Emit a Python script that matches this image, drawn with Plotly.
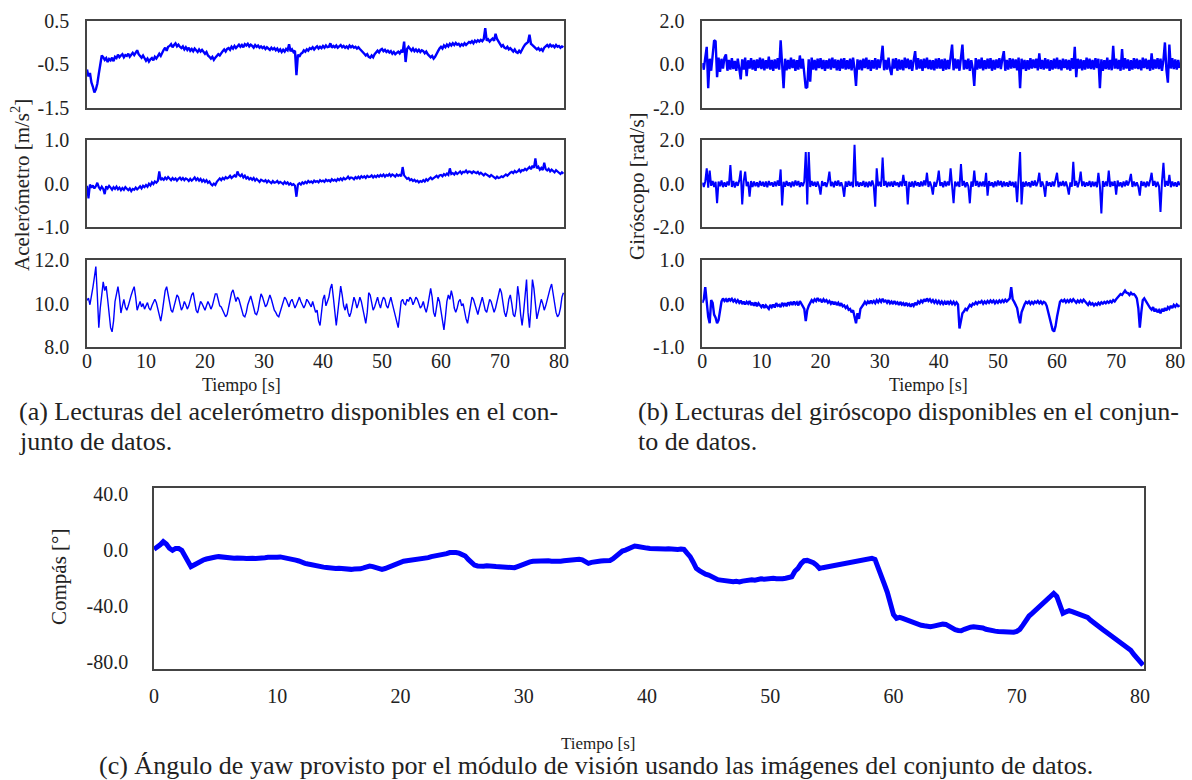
import plotly.graph_objects as go

# ---------------- sensor readings, sampled every 0.25 s ----------------
accel_x = [
    -0.62, -0.78, -0.70, -0.92, -1.02, -1.15, -1.08, -0.95,
    -0.72, -0.55, -0.30, -0.34, -0.40, -0.36, -0.45, -0.38,
    -0.41, -0.35, -0.43, -0.33, -0.36, -0.28, -0.34, -0.30,
    -0.27, -0.34, -0.29, -0.31, -0.26, -0.33, -0.28, -0.24,
    -0.29, -0.22, -0.18, -0.27, -0.31, -0.35, -0.30, -0.38,
    -0.42, -0.37, -0.44, -0.39, -0.36, -0.41, -0.33, -0.37,
    -0.30, -0.26, -0.31, -0.22, -0.17, -0.12, -0.19, -0.10,
    -0.08, -0.04, -0.11, -0.06, -0.02, -0.09, -0.05, -0.10,
    -0.13, -0.09, -0.16, -0.11, -0.17, -0.12, -0.19, -0.15,
    -0.20, -0.14, -0.18, -0.22, -0.16, -0.21, -0.17, -0.23,
    -0.26, -0.22, -0.30, -0.33, -0.37, -0.33, -0.40, -0.35,
    -0.31, -0.27, -0.30, -0.24, -0.20, -0.16, -0.21, -0.15,
    -0.13, -0.17, -0.10, -0.14, -0.08, -0.13, -0.09, -0.05,
    -0.10, -0.06, -0.11, -0.04, -0.07, -0.03, -0.09, -0.05,
    -0.08, -0.12, -0.06, -0.10, -0.07, -0.12, -0.09, -0.13,
    -0.10, -0.15, -0.11, -0.14, -0.17, -0.12, -0.16, -0.13,
    -0.18, -0.14, -0.20, -0.16, -0.22, -0.17, -0.21, -0.15,
    -0.18, -0.04, -0.20, -0.16, -0.22, -0.19, -0.75, -0.28,
    -0.33, -0.26, -0.24, -0.18, -0.21, -0.16, -0.19, -0.13,
    -0.15, -0.11, -0.16, -0.12, -0.09, -0.14, -0.10, -0.13,
    -0.08, -0.12, -0.07, -0.11, -0.10, -0.02, -0.12, -0.08,
    -0.11, -0.07, -0.12, -0.09, -0.06, -0.11, -0.08, -0.12,
    -0.09, -0.13, -0.07, -0.11, -0.08, -0.12, -0.10, -0.14,
    -0.11, -0.15, -0.18, -0.22, -0.26, -0.30, -0.27, -0.33,
    -0.35, -0.30, -0.34, -0.27, -0.24, -0.19, -0.23, -0.17,
    -0.15, -0.20, -0.17, -0.22, -0.19, -0.23, -0.20, -0.26,
    -0.22, -0.27, -0.24, -0.21, -0.25, -0.19, -0.23, 0.02,
    -0.45, -0.15, -0.10, -0.16, -0.19, -0.14, -0.20, -0.16,
    -0.21, -0.17, -0.22, -0.18, -0.20, -0.25, -0.21, -0.27,
    -0.30, -0.34, -0.31, -0.37, -0.33, -0.28, -0.20, -0.14,
    -0.10, -0.14, -0.07, -0.11, -0.05, -0.09, -0.03, -0.07,
    -0.02, -0.06, -0.01, -0.05, -0.03, -0.08, -0.04, -0.07,
    -0.02, -0.06, -0.03, 0.01, -0.01, 0.03, -0.02, 0.04,
    0.01, 0.05, 0.02, 0.06, 0.03, 0.08, 0.33, 0.04,
    0.07, 0.02, 0.06, 0.09, 0.04, 0.20, 0.08, 0.03,
    -0.04, -0.09, -0.06, -0.12, -0.14, -0.10, -0.16, -0.13,
    -0.17, -0.21, -0.16, -0.22, -0.24, -0.19, -0.23, -0.15,
    -0.10, -0.05, -0.02, 0.01, 0.18, -0.03, -0.06, -0.10,
    -0.12, -0.16, -0.13, -0.18, -0.15, -0.19, -0.12, -0.09,
    -0.06, -0.10, -0.05, -0.09, -0.07, -0.11, -0.06, -0.10,
    -0.08, -0.12, -0.09, -0.11,
]

accel_y = [
    -0.05, -0.34, -0.02, -0.09, -0.04, -0.11, -0.06, 0.02,
    -0.08, -0.13, -0.07, -0.12, -0.24, -0.06, -0.11, -0.05,
    -0.09, -0.14, -0.08, -0.12, -0.07, -0.13, -0.09, -0.15,
    -0.10, -0.14, -0.08, -0.12, -0.15, -0.11, -0.17, -0.12,
    -0.14, -0.09, -0.13, -0.10, -0.06, -0.11, -0.05, -0.08,
    -0.03, -0.07, 0.00, -0.04, 0.03, -0.01, 0.05, 0.02,
    0.06, 0.28, 0.08, 0.12, 0.09, 0.14, 0.10, 0.15,
    0.11, 0.08, 0.13, 0.09, 0.12, 0.07, 0.11, 0.14,
    0.09, 0.13, 0.08, 0.12, 0.10, 0.06, 0.11, 0.07,
    0.10, 0.14, 0.08, 0.12, 0.07, 0.11, 0.05, 0.09,
    0.04, 0.08, 0.02, 0.05, -0.01, -0.04, 0.00, -0.03,
    0.04, 0.09, 0.12, 0.08, 0.13, 0.10, 0.15, 0.12,
    0.14, 0.18, 0.13, 0.16, 0.19, 0.15, 0.28, 0.20,
    0.17, 0.21, 0.14, 0.18, 0.12, 0.15, 0.10, 0.13,
    0.09, 0.13, 0.07, 0.11, 0.08, 0.04, 0.09, 0.06,
    0.05, 0.08, 0.03, 0.07, 0.04, 0.01, 0.06, 0.02,
    0.03, 0.06, 0.01, 0.04, 0.02, -0.01, 0.04, 0.00,
    0.03, -0.02, 0.01, -0.03, -0.01, -0.05, -0.30, -0.02,
    0.01, -0.02, 0.03, 0.00, 0.04, 0.01, 0.06, 0.03,
    0.05, 0.02, 0.07, 0.04, 0.06, 0.03, 0.08, 0.05,
    0.07, 0.04, 0.09, 0.06, 0.08, 0.05, 0.10, 0.07,
    0.09, 0.06, 0.11, 0.08, 0.12, 0.08, 0.13, 0.10,
    0.12, 0.16, 0.11, 0.14, 0.13, 0.10, 0.15, 0.12,
    0.16, 0.12, 0.17, 0.14, 0.17, 0.13, 0.18, 0.15,
    0.16, 0.19, 0.14, 0.18, 0.15, 0.19, 0.16, 0.20,
    0.17, 0.21, 0.16, 0.20, 0.18, 0.22, 0.17, 0.21,
    0.19, 0.16, 0.21, 0.18, 0.20, 0.17, 0.38, 0.19,
    0.15, 0.11, 0.13, 0.08, 0.10, 0.06, 0.09, 0.05,
    0.07, 0.03, 0.06, 0.04, 0.08, 0.05, 0.10, 0.07,
    0.11, 0.14, 0.10, 0.13, 0.15, 0.18, 0.14, 0.19,
    0.20, 0.17, 0.22, 0.19, 0.23, 0.20, 0.35, 0.22,
    0.24, 0.21, 0.26, 0.22, 0.25, 0.28, 0.23, 0.27,
    0.26, 0.30, 0.25, 0.28, 0.27, 0.24, 0.28, 0.25,
    0.24, 0.27, 0.22, 0.25, 0.22, 0.19, 0.23, 0.20,
    0.19, 0.16, 0.20, 0.17, 0.15, 0.12, 0.16, 0.13,
    0.14, 0.17, 0.15, 0.19, 0.21, 0.18, 0.23, 0.25,
    0.27, 0.24, 0.29, 0.26, 0.28, 0.32, 0.27, 0.31,
    0.30, 0.34, 0.31, 0.36, 0.38, 0.33, 0.41, 0.36,
    0.58, 0.35, 0.39, 0.32, 0.36, 0.31, 0.48, 0.33,
    0.30, 0.34, 0.28, 0.32, 0.29, 0.26, 0.31, 0.27,
    0.25, 0.22, 0.26, 0.23,
]

accel_z = [
    10.15, 10.25, 9.95, 10.30, 10.75, 11.20, 11.70, 10.40,
    8.90, 9.80, 10.60, 11.00, 10.60, 10.80, 10.20, 9.50,
    8.90, 8.71, 9.20, 10.10, 10.50, 10.78, 10.30, 9.57,
    9.90, 10.20, 9.85, 9.70, 9.90, 10.20, 10.40, 10.60,
    10.78, 10.30, 9.70, 9.90, 10.10, 9.85, 10.00, 9.75,
    9.95, 10.05, 9.80, 9.70, 9.90, 10.10, 10.20, 10.05,
    9.80, 9.50, 9.20, 9.60, 10.10, 10.60, 10.78, 10.40,
    9.90, 9.70, 9.60, 9.90, 10.20, 10.40, 10.30, 9.90,
    9.70, 9.85, 10.10, 9.95, 9.75, 9.90, 10.20, 10.40,
    10.50, 10.10, 9.70, 9.57, 9.80, 10.10, 10.00, 9.85,
    9.70, 9.90, 10.10, 9.95, 9.75, 9.90, 10.20, 10.45,
    10.45, 10.10, 9.90, 9.85, 9.70, 9.55, 9.40, 9.50,
    9.80, 10.20, 10.50, 10.63, 10.40, 10.10, 10.30, 10.20,
    9.95, 9.70, 9.45, 9.40, 9.60, 9.95, 10.20, 10.35,
    10.10, 9.80, 9.55, 9.50, 9.70, 10.10, 10.45, 10.30,
    10.00, 9.85, 9.95, 10.20, 10.40, 10.20, 9.90, 9.70,
    9.60, 9.45, 9.40, 9.60, 9.85, 10.10, 10.30, 10.20,
    10.00, 9.85, 10.10, 10.20, 10.00, 9.80, 9.95, 10.15,
    10.30, 10.10, 9.90, 9.80, 9.95, 10.20, 10.10, 9.95,
    9.85, 10.10, 9.90, 9.60, 9.70, 9.20, 9.00, 9.60,
    10.20, 10.40, 9.90, 10.10, 10.30, 10.70, 10.90, 10.30,
    9.50, 9.00, 9.60, 10.30, 10.80, 10.40, 9.90, 9.70,
    10.00, 9.60, 9.40, 9.60, 9.90, 10.30, 10.10, 9.80,
    10.00, 10.30, 10.10, 9.70, 9.40, 9.10, 9.60, 10.50,
    10.40, 10.00, 9.70, 9.85, 10.10, 10.30, 10.00, 9.80,
    10.10, 10.30, 10.20, 9.90, 9.80, 10.10, 10.30, 10.00,
    9.70, 9.50, 9.10, 8.90, 9.50, 10.10, 10.20, 10.00,
    9.95, 10.20, 10.10, 10.30, 10.20, 9.95, 10.10, 10.30,
    10.20, 10.00, 9.80, 9.90, 10.10, 9.80, 9.60, 9.90,
    10.30, 10.70, 10.30, 9.60, 9.40, 9.80, 10.30, 10.10,
    9.60, 9.20, 8.80, 9.40, 10.10, 10.40, 10.20, 10.60,
    10.30, 9.80, 9.60, 9.80, 10.10, 10.20, 9.90, 10.00,
    9.60, 9.30, 9.10, 9.50, 10.00, 10.30, 10.20, 10.00,
    9.70, 9.50, 9.80, 10.10, 10.30, 10.00, 9.70, 9.60,
    9.90, 10.20, 10.10, 9.80, 9.60, 9.80, 10.10, 10.40,
    10.70, 10.50, 10.00, 9.60, 9.40, 9.70, 10.20, 10.40,
    10.00, 9.50, 9.40, 9.80, 10.80, 10.30, 9.50, 9.00,
    9.60, 10.60, 11.10, 9.60, 8.90, 9.80, 11.10, 10.70,
    9.80, 9.30, 9.60, 10.00, 10.20, 10.00, 9.70, 9.90,
    10.20, 10.50, 10.70, 10.90, 10.40, 9.90, 9.60, 9.40,
    9.50, 9.80, 10.30, 10.50,
]

gyro_x = [
    0.05, -0.25, 0.30, 0.80, -1.10, 0.25, -0.30, 0.35,
    1.10, 1.05, -0.60, 0.30, -0.35, 0.25, -0.20, 0.30,
    0.45, -0.30, 0.20, -0.25, 0.28, -0.22, 0.15, -0.30,
    0.25, -0.20, -0.70, 0.22, -0.25, 0.30, -0.55, 0.18,
    -0.20, 0.28, -0.25, 0.20, -0.30, 0.22, -0.18, 0.30,
    -0.22, 0.25, -0.28, 0.18, -0.20, 0.35, -0.25, 0.20,
    -0.30, 0.22, -0.20, 0.28, -0.25, 1.10, -0.20, -1.10,
    0.25, -0.28, 0.20, -0.22, 0.30, -0.18, 0.22, -0.30,
    0.18, -0.25, 0.40, -0.20, 0.25, -0.30, -1.10, -1.05,
    0.22, -0.80, 0.30, -0.25, 0.20, -0.28, 0.25, -0.18,
    0.28, -0.22, 0.20, -0.30, 0.18, -0.20, 0.25, -0.25,
    0.30, -0.18, 0.22, -0.28, 0.20, -0.30, 0.25, -0.20,
    0.28, -0.25, 0.18, -0.22, 0.25, -0.28, 0.30, -0.20,
    -1.00, 0.22, -0.25, 0.20, -0.28, 0.25, -0.18, 0.30,
    -0.22, 0.20, -0.30, 0.18, -0.20, 0.28, -0.25, 0.22,
    -0.18, 0.25, 0.85, -0.28, 0.20, -0.25, 0.30, -0.22,
    -0.50, 0.25, -0.20, 0.28, -0.30, 0.22, -0.25, 0.20,
    -0.28, 0.30, -0.18, 0.25, -0.22, 0.20, -0.30, 0.18,
    0.60, -0.25, 0.28, -0.20, 0.22, -0.30, 0.25, -0.18,
    0.30, -0.22, 0.20, -0.25, 0.18, -0.28, 0.25, -0.20,
    0.28, -0.20, 0.22, -0.30, 0.25, -0.25, 0.20, -0.22,
    0.30, 0.90, -0.28, 0.25, -0.20, 0.22, -0.30, 0.28,
    0.90, -0.25, 0.20, -0.22, 0.25, -0.30, 0.18, -0.20,
    -1.00, 0.28, -0.25, 0.22, -0.20, 0.30, -0.28, 0.18,
    -0.22, 0.25, -0.20, 0.28, -0.30, 0.20, -0.25, 0.22,
    -0.18, 0.28, -0.22, 0.25, 0.60, -0.30, 0.20, -0.25,
    0.28, -0.20, 0.25, -0.18, 0.22, -0.28, 0.30, -1.10,
    0.25, -0.22, 0.20, -0.30, 0.18, -0.25, 0.28, -0.20,
    0.22, -0.18, 0.25, -0.28, 0.50, -0.22, 0.20, -0.25,
    0.28, -0.20, 0.22, -0.30, 0.18, -0.25, 0.25, -0.20,
    0.30, -0.22, 0.20, -0.28, 0.25, -0.18, 0.22, -0.25,
    0.20, -0.30, 0.28, -0.22, 0.80, -0.60, 0.25, -0.20,
    0.22, -0.28, 0.18, -0.25, 0.30, -0.20, 0.25, -0.22,
    0.20, -0.25, 0.28, -0.18, 0.25, -1.10, 0.22, -0.30,
    0.18, -0.22, 0.30, -0.25, 0.20, -0.28, 0.85, -0.20,
    0.25, -0.22, 0.20, -0.30, 0.70, -0.25, 0.28, -0.20,
    0.22, -0.30, 0.18, -0.25, 0.28, -0.20, 0.25, -0.22,
    0.20, -0.28, 0.30, -0.18, 0.25, -0.22, 0.20, -0.30,
    0.50, -0.25, 0.22, -0.20, 0.28, -0.22, 0.25, -0.30,
    0.20, 1.00, -0.25, -0.85, 0.90, -0.20, 0.28, -0.22,
    0.22, -0.25, 0.20, -0.18,
]

gyro_y = [
    0.05, -0.15, 0.10, 0.70, -0.18, 0.60, -0.10, 0.12,
    -0.15, 0.08, -0.90, 0.10, -0.12, 0.14, -0.16, 0.06,
    -0.14, 0.10, -0.08, 0.85, -0.15, 0.12, -0.18, 0.08,
    -0.10, 0.14, 0.60, -0.95, 0.10, 0.55, -0.12, 0.08,
    -0.60, 0.12, -0.15, 0.10, -0.12, 0.06, -0.16, 0.12,
    -0.10, 0.08, -0.14, 0.10, -0.16, 0.12, -0.08, 0.06,
    -0.14, 0.10, -0.12, 0.14, -0.10, 0.65, -1.00, 0.08,
    -0.14, 0.12, -0.10, 0.06, -0.16, 0.10, -0.12, 0.14,
    -0.08, 0.12, -0.15, 0.06, -0.12, 0.10, 1.45, -0.95,
    1.45, -0.15, 0.12, -0.10, 0.08, -0.14, 0.10, -0.12,
    -0.50, 0.12, -0.10, 0.06, -0.15, 0.10, 0.55, -0.12,
    0.08, -0.16, 0.12, -0.10, 0.14, -0.12, 0.06, -0.15,
    -0.60, 0.10, -0.14, 0.12, -0.10, 0.08, -0.16, 1.78,
    -0.12, 0.10, -0.14, 0.06, -0.10, 0.12, -0.15, 0.08,
    -0.16, 0.10, -0.12, 0.14, -0.10, -1.06, 0.70, -0.12,
    0.08, -0.14, 1.20, -0.10, 0.12, -0.16, 0.08, -0.12,
    0.10, -0.14, 0.12, -0.08, 0.06, -0.15, 0.10, -0.12,
    0.40, -0.10, 0.12, -0.95, 0.08, -0.14, 0.10, -0.16,
    0.12, -0.10, 0.06, -0.14, 0.10, -0.12, 0.14, -0.08,
    0.50, -0.15, 0.10, -0.12, -0.50, 0.08, -0.14, 0.12,
    0.60, -0.10, 0.06, -0.16, 0.12, -0.12, 0.10, -0.08,
    0.70, -0.14, -0.90, 0.10, -0.12, 0.08, -0.15, 0.90,
    -0.10, 0.12, -0.16, 0.06, -0.12, -0.90, 0.10, -0.14,
    0.60, -0.10, 0.12, -0.15, 0.08, -0.12, 0.10, -0.14,
    0.50, -0.55, 0.12, -0.10, 0.06, -0.16, 0.10, -0.12,
    0.14, -0.08, 0.12, -0.15, 0.10, -0.12, 0.06, -0.14,
    0.12, -0.10, 0.08, -0.16, 0.10, -0.85, 0.12, 1.45,
    -0.95, 0.08, -0.14, 0.10, -0.12, 0.06, -0.16, 0.12,
    -0.10, 0.14, -0.12, 0.08, 0.50, -0.15, 0.10, -0.12,
    -0.60, 0.12, -0.10, 0.06, -0.14, 0.10, -0.12, 0.14,
    0.50, -0.16, 0.08, -0.10, 0.12, -0.12, 0.10, -0.15,
    -0.50, 0.06, -0.14, 1.00, -0.10, 0.12, -0.16, 0.08,
    0.55, -0.12, 0.10, -0.14, 0.06, -0.10, 0.12, -0.15,
    0.10, -0.12, 0.08, -0.16, 0.50, -0.10, -1.37, 0.12,
    -0.14, 0.10, -0.12, 0.60, -0.15, 0.08, -0.10, 0.12,
    -0.50, 0.14, -0.12, 0.06, -0.16, 0.10, -0.12, 0.14,
    -0.08, 0.12, 0.45, -0.15, 0.10, -0.12, 0.06, -0.14,
    -0.55, 0.12, -0.10, 0.08, -0.16, 0.10, -0.12, 0.14,
    0.50, -0.10, 0.12, -0.15, 0.08, -0.12, -1.30, 0.10,
    0.95, -0.14, 0.12, -0.10, 0.40, -0.16, 0.10, -0.12,
    0.06, -0.14, 0.10, -0.08,
]

gyro_z = [
    0.02, 0.10, 0.38, -0.05, -0.30, -0.45, 0.08, 0.02,
    -0.25, -0.32, -0.45, -0.38, -0.10, 0.05, 0.12, 0.06,
    0.10, 0.04, 0.12, 0.07, 0.11, 0.05, 0.09, 0.03,
    0.08, 0.02, 0.07, -0.01, 0.05, -0.02, 0.04, 0.00,
    0.06, -0.03, 0.02, -0.05, 0.03, -0.06, 0.01, -0.04,
    -0.08, -0.02, -0.10, -0.04, -0.07, -0.12, -0.03, -0.08,
    -0.02, -0.09, 0.01, -0.05, -0.03, -0.08, 0.02, -0.04,
    0.01, -0.06, 0.03, -0.02, 0.04, -0.03, 0.05, -0.01,
    0.03, -0.04, 0.06, 0.00, -0.04, -0.12, -0.40, -0.15,
    -0.05, 0.02, 0.08, 0.04, 0.10, 0.06, 0.13, 0.07,
    0.09, 0.03, 0.10, 0.05, 0.08, 0.02, 0.06, 0.00,
    0.05, -0.02, 0.04, -0.03, 0.02, -0.05, 0.01, -0.06,
    -0.04, -0.10, -0.06, -0.14, -0.12, -0.20, -0.15, -0.30,
    -0.45, -0.22, -0.35, -0.12, -0.08, -0.02, 0.04, -0.01,
    0.05, 0.00, 0.07, 0.02, 0.06, 0.01, 0.08, 0.03,
    0.09, 0.04, 0.11, 0.05, 0.07, 0.02, 0.08, 0.01,
    0.05, -0.01, 0.06, 0.00, 0.03, -0.03, 0.04, -0.02,
    0.01, -0.05, 0.02, -0.04, -0.01, -0.07, 0.00, -0.05,
    0.02, -0.03, 0.05, 0.01, 0.07, 0.03, 0.10, 0.05,
    0.12, 0.06, 0.10, 0.04, 0.08, 0.02, 0.07, 0.01,
    0.06, 0.00, 0.05, -0.01, 0.04, -0.02, 0.06, 0.00,
    0.05, -0.01, 0.04, -0.02, 0.03, -0.02, -0.57, -0.35,
    -0.22, -0.18, -0.12, -0.15, -0.08, -0.03, -0.06, 0.00,
    -0.02, 0.03, -0.01, 0.04, 0.02, 0.06, 0.00, 0.05,
    0.01, 0.06, 0.02, 0.07, 0.03, 0.07, 0.01, 0.06,
    0.02, 0.07, 0.03, 0.08, 0.04, 0.09, 0.05, 0.10,
    0.12, 0.38, 0.10, 0.04, -0.02, -0.10, -0.30, -0.45,
    -0.20, -0.08, -0.02, 0.04, 0.01, 0.05, -0.01, 0.04,
    0.00, 0.05, 0.02, 0.06, 0.01, 0.05, 0.00, 0.04,
    0.02, -0.05, -0.20, -0.32, -0.45, -0.60, -0.64, -0.52,
    -0.30, -0.12, 0.04, 0.08, 0.05, 0.09, 0.03, 0.08,
    0.04, 0.09, 0.05, 0.10, 0.06, 0.02, 0.07, 0.03,
    0.08, 0.04, 0.09, 0.05, 0.02, -0.03, 0.03, -0.02,
    0.01, -0.04, 0.00, -0.03, 0.02, -0.02, 0.03, 0.00,
    0.04, 0.01, 0.05, 0.02, 0.06, 0.03, 0.08, 0.05,
    0.10, 0.14, 0.18, 0.22, 0.20, 0.26, 0.30, 0.25,
    0.24, 0.20, 0.25, 0.21, 0.22, 0.18, 0.12, -0.10,
    -0.55, -0.20, 0.08, 0.12, 0.06, 0.00, -0.05, -0.10,
    -0.14, -0.08, -0.18, -0.12, -0.20, -0.15, -0.22, -0.12,
    -0.18, -0.10, -0.16, -0.08, -0.12, -0.05, -0.10, -0.03,
    -0.07, -0.02, -0.06, -0.04,
]

# yaw angle from the vision module, degrees, sampled every 0.25 s
compass_yaw = [
    0.7, 2.0, 4.0, 6.2, 4.5, 1.5, 0.0, 1.4,
    1.4, 0.0, -4.0, -8.0, -11.7, -10.5, -9.0, -7.5,
    -6.9, -6.2, -5.5, -5.0, -4.8, -4.5, -4.8, -5.2,
    -5.0, -5.5, -5.7, -5.4, -5.2, -5.6, -5.8, -5.5,
    -5.7, -5.9, -5.4, -5.6, -5.3, -5.0, -5.2, -4.8,
    -5.0, -4.7, -5.1, -5.0, -5.6, -6.2, -7.0, -7.6,
    -8.8, -9.3, -9.8, -10.4, -11.0, -11.4, -11.7, -12.0,
    -12.2, -12.6, -12.5, -12.9, -12.8, -13.2, -13.0, -13.4,
    -13.6, -13.3, -13.7, -13.2, -12.6, -11.8, -11.2, -11.6,
    -12.4, -13.2, -13.6, -13.0, -12.0, -11.0, -10.0, -9.0,
    -8.1, -7.8, -7.4, -7.2, -7.0, -6.9, -6.5, -6.0,
    -5.6, -5.2, -4.5, -4.2, -3.8, -3.2, -2.8, -2.4,
    -1.6, -1.2, -1.5, -2.0, -2.6, -4.0, -6.5, -9.0,
    -10.5, -11.2, -11.6, -11.4, -11.0, -11.5, -11.8, -11.6,
    -11.7, -12.0, -12.4, -12.6, -12.9, -12.4, -11.6, -10.6,
    -9.3, -8.8, -8.2, -7.8, -7.6, -7.4, -7.6, -7.8,
    -7.5, -7.8, -8.1, -8.0, -7.8, -7.5, -7.2, -7.0,
    -6.8, -6.6, -6.4, -6.8, -8.0, -9.3, -8.6, -8.0,
    -7.8, -7.6, -7.4, -7.6, -7.2, -6.0, -4.0, -2.0,
    -0.5, 0.2, 1.2, 2.2, 3.1, 2.8, 2.2, 1.8,
    1.6, 1.4, 1.2, 1.5, 1.0, 1.3, 0.9, 1.2,
    0.8, 1.1, 0.7, 0.9, 0.7, -2.0, -4.5, -8.5,
    -12.9, -14.5, -16.0, -17.0, -17.7, -19.0, -20.2, -21.0,
    -21.3, -21.8, -22.2, -22.4, -22.5, -22.2, -22.6, -22.0,
    -21.6, -21.3, -21.0, -21.4, -20.8, -20.4, -20.6, -20.1,
    -20.4, -20.0, -20.3, -20.6, -20.3, -20.0, -19.5, -18.9,
    -15.0, -12.9, -9.5, -7.4, -7.2, -7.6, -8.8, -10.5,
    -12.9, -12.4, -12.0, -11.7, -11.4, -10.8, -10.5, -10.2,
    -9.8, -9.3, -9.0, -8.6, -8.2, -7.9, -7.4, -7.0,
    -6.5, -5.7, -6.5, -11.7, -18.0, -24.0, -30.0, -38.0,
    -46.0, -48.7, -48.0, -48.7, -49.5, -50.5, -51.8, -52.5,
    -53.0, -53.6, -54.0, -54.4, -54.7, -54.2, -53.5, -53.0,
    -52.8, -53.0, -54.5, -56.0, -56.8, -57.3, -57.5, -56.5,
    -55.5, -55.0, -54.7, -54.7, -54.7, -55.5, -56.5, -57.2,
    -57.5, -57.8, -58.0, -58.3, -58.6, -58.8, -59.0, -58.6,
    -58.0, -56.5, -53.5, -50.0, -47.0, -45.1, -43.0, -40.5,
    -38.5, -36.7, -34.5, -32.5, -30.8, -33.0, -40.0, -45.1,
    -44.0, -43.2, -43.8, -44.6, -45.1, -45.6, -46.3, -48.0,
    -50.0, -52.0, -53.5, -55.0, -56.8, -58.4, -60.0, -61.8,
    -63.2, -64.8, -66.4, -68.0, -69.0, -71.5, -74.5, -77.0,
    -79.5, -82.1,
]

SAMPLE_STEP = 0.25

# tick labels
x_ticks = [0, 10, 20, 30, 40, 50, 60, 70, 80]
acc_x_ticks = [-1.5, -0.5, 0.5]
acc_y_ticks = [-1.0, 0.0, 1.0]
acc_z_ticks = [8.0, 10.0, 12.0]
gyr_xy_ticks = [-2.0, 0.0, 2.0]
gyr_z_ticks = [-1.0, 0.0, 1.0]
yaw_ticks = [-80.0, -40.0, 0.0, 40.0]

W, H = 1192, 780
SERIF = "Liberation Serif, Times New Roman, serif"
TEXT = "#222222"
BLUE = "#0000ff"


def px_x(a, b):
    return [a / W, b / W]


def px_y(top, bottom):
    return [1 - bottom / H, 1 - top / H]


def times_for(values):
    return [i * SAMPLE_STEP for i in range(len(values))]


panels = [
    # (values, x-domain px, y-domain px, y-range, y-ticks, x-range, show x labels, line width)
    (accel_x, (87, 564), (20.7, 107.7), (-1.5, 0.5), acc_x_ticks, (0, 80.85), False, 2.4),
    (accel_y, (87, 564), (140, 227.3), (-1.0, 1.0), acc_y_ticks, (0, 80.85), False, 2.2),
    (accel_z, (87, 564), (260, 347.3), (8.0, 12.0), acc_z_ticks, (0, 80.85), True, 1.4),
    (gyro_x, (702.3, 1180), (20.7, 107.7), (-2.0, 2.0), gyr_xy_ticks, (0, 80.8), False, 2.4),
    (gyro_y, (702.3, 1180), (140, 227.3), (-2.0, 2.0), gyr_xy_ticks, (0, 80.8), False, 2.0),
    (gyro_z, (702.3, 1180), (260, 347.3), (-1.0, 1.0), gyr_z_ticks, (0, 80.8), True, 2.4),
]

fig = go.Figure()
layout = dict(
    width=W, height=H,
    margin=dict(l=0, r=0, t=0, b=0),
    paper_bgcolor="white", plot_bgcolor="white",
    showlegend=False,
    font=dict(family=SERIF, color=TEXT, size=20),
)

axis_line = dict(showline=True, linecolor="#444444", linewidth=1.5, mirror=True,
                 showgrid=False, zeroline=False, automargin=False,
                 tickcolor="rgba(0,0,0,0)")

for i, (vals, xd, yd, yr, yt, xr, show_x, lw) in enumerate(panels, start=1):
    xa = "x" if i == 1 else f"x{i}"
    ya = "y" if i == 1 else f"y{i}"
    fig.add_trace(go.Scatter(x=times_for(vals), y=vals, mode="lines",
                             line=dict(color=BLUE, width=lw),
                             xaxis=xa, yaxis=ya, hoverinfo="skip"))
    layout["xaxis" if i == 1 else f"xaxis{i}"] = dict(
        axis_line, domain=px_x(*xd), range=list(xr), anchor=ya, ticks="",
        ticklabelstandoff=-5,
        tickvals=x_ticks, ticktext=[str(v) for v in x_ticks],
        showticklabels=show_x, tickfont=dict(size=20, family=SERIF, color=TEXT))
    layout["yaxis" if i == 1 else f"yaxis{i}"] = dict(
        axis_line, domain=px_y(*yd), range=list(yr), anchor=xa, ticks="outside",
        tickvals=yt, ticktext=[f"{v:.1f}" for v in yt],
        ticklen=12, tickfont=dict(size=20, family=SERIF, color=TEXT))

# compass panel
fig.add_trace(go.Scatter(x=times_for(compass_yaw), y=compass_yaw, mode="lines",
                         line=dict(color=BLUE, width=5),
                         xaxis="x7", yaxis="y7", hoverinfo="skip"))
layout["xaxis7"] = dict(axis_line, domain=px_x(154, 1144.3), range=[0, 80.35], anchor="y7",
                        ticks="outside", tickvals=x_ticks, ticktext=[str(v) for v in x_ticks],
                        ticklen=8, tickfont=dict(size=20, family=SERIF, color=TEXT))
layout["yaxis7"] = dict(axis_line, domain=px_y(488.3, 669), range=[-84.9, 44.4], anchor="x7",
                        ticks="outside", tickvals=yaw_ticks,
                        ticktext=[f"{v:.1f}" for v in yaw_ticks],
                        ticklen=20, tickfont=dict(size=20, family=SERIF, color=TEXT))

fig.update_layout(**layout)


def label(text, x, y, size, angle=0, xanchor="center"):
    fig.add_annotation(text=text, x=x / W, y=1 - y / H, xref="paper", yref="paper",
                       showarrow=False, textangle=angle, xanchor=xanchor, yanchor="middle",
                       font=dict(family=SERIF, size=size, color=TEXT))


# axis titles
label("Acelerómetro [m/s<sup>2</sup>]", 20, 185, 21, angle=-90)
label("Giróscopo [rad/s]", 637, 186, 21, angle=-90)
label("Compás [°]", 59, 577, 21, angle=-90)
label("Tiempo [s]", 241, 385, 18)
label("Tiempo [s]", 928, 385, 18)
label("Tiempo [s]", 598, 743, 17)

# captions
label("(a) Lecturas del acelerómetro disponibles en el con-", 17, 411, 26, xanchor="left")
label("junto de datos.", 17, 441, 26, xanchor="left")
label("(b) Lecturas del giróscopo disponibles en el conjun-", 636, 411, 26, xanchor="left")
label("to de datos.", 636, 441, 26, xanchor="left")
label("(c) Ángulo de yaw provisto por el módulo de visión usando las imágenes del conjunto de datos.",
      596, 765, 26)

fig.write_html("out.html")
